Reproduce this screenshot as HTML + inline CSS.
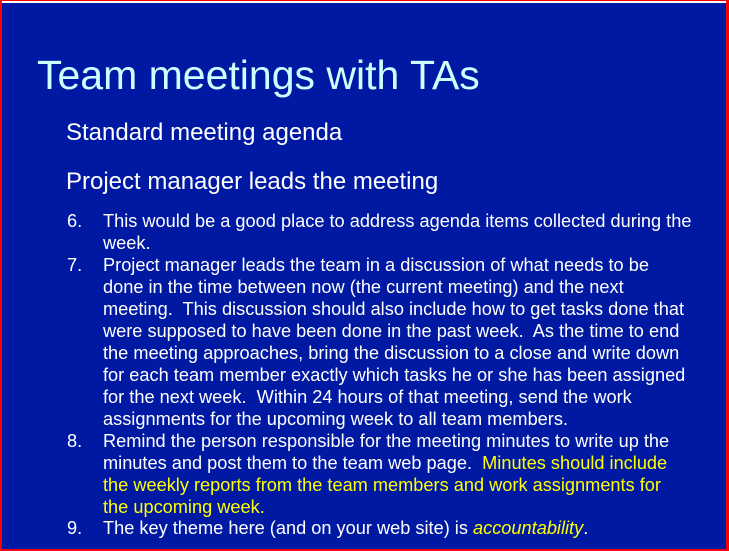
<!DOCTYPE html>
<html><head><meta charset="utf-8"><style>
html,body{margin:0;padding:0}
body{width:729px;height:551px;position:relative;overflow:hidden;background:#fff;font-family:"Liberation Sans",Arial,sans-serif}
#slide{position:absolute;left:0;top:0;width:729px;height:551px;box-sizing:border-box;background:#0019a3;border-left:2px solid #f00;border-right:3px solid #f00;border-bottom:2px solid #f00;border-top:1px solid #f00}
#slide:before{content:"";position:absolute;left:0;right:0;top:0;height:2px;background:#fff}
.t{position:absolute;white-space:nowrap;color:#fff}
#title{left:35px;top:51px;font-size:41px;color:#ccffff}
.sub{font-size:24px;left:64px}
.l{font-size:18.2px;left:101px;line-height:22px}
.n{font-size:18.2px;left:65px;line-height:22px}
.y{color:#ffff00}
</style></head><body>
<div id="slide">
<div class="t" id="title">Team meetings with TAs</div>
<div class="t sub" style="top:118px">Standard meeting agenda</div>
<div class="t sub" style="top:167px">Project manager leads the meeting</div>

<div>
<div class="t n" style="top:209px">6.</div>
<div class="t l" style="top:209px">This would be a good place to address agenda items collected during the<br>week.</div>
<div class="t n" style="top:253px">7.</div>
<div class="t l" style="top:253px">Project manager leads the team in a discussion of what needs to be<br>done in the time between now (the current meeting) and the next<br>meeting.&nbsp; This discussion should also include how to get tasks done that<br>were supposed to have been done in the past week.&nbsp; As the time to end<br>the meeting approaches, bring the discussion to a close and write down<br>for each team member exactly which tasks he or she has been assigned<br>for the next week.&nbsp; Within 24 hours of that meeting, send the work<br>assignments for the upcoming week to all team members.</div>
<div class="t n" style="top:429px">8.</div>
<div class="t l" style="top:429px">Remind the person responsible for the meeting minutes to write up the<br>minutes and post them to the team web page.&nbsp; <span class="y">Minutes should include</span><br><span class="y">the weekly reports from the team members and work assignments for</span><br><span class="y">the upcoming week.</span></div>
<div class="t n" style="top:516px">9.</div>
<div class="t l" style="top:516px">The key theme here (and on your web site) is <i class="y">accountability</i>.</div>
</div>
</div>
</body></html>
